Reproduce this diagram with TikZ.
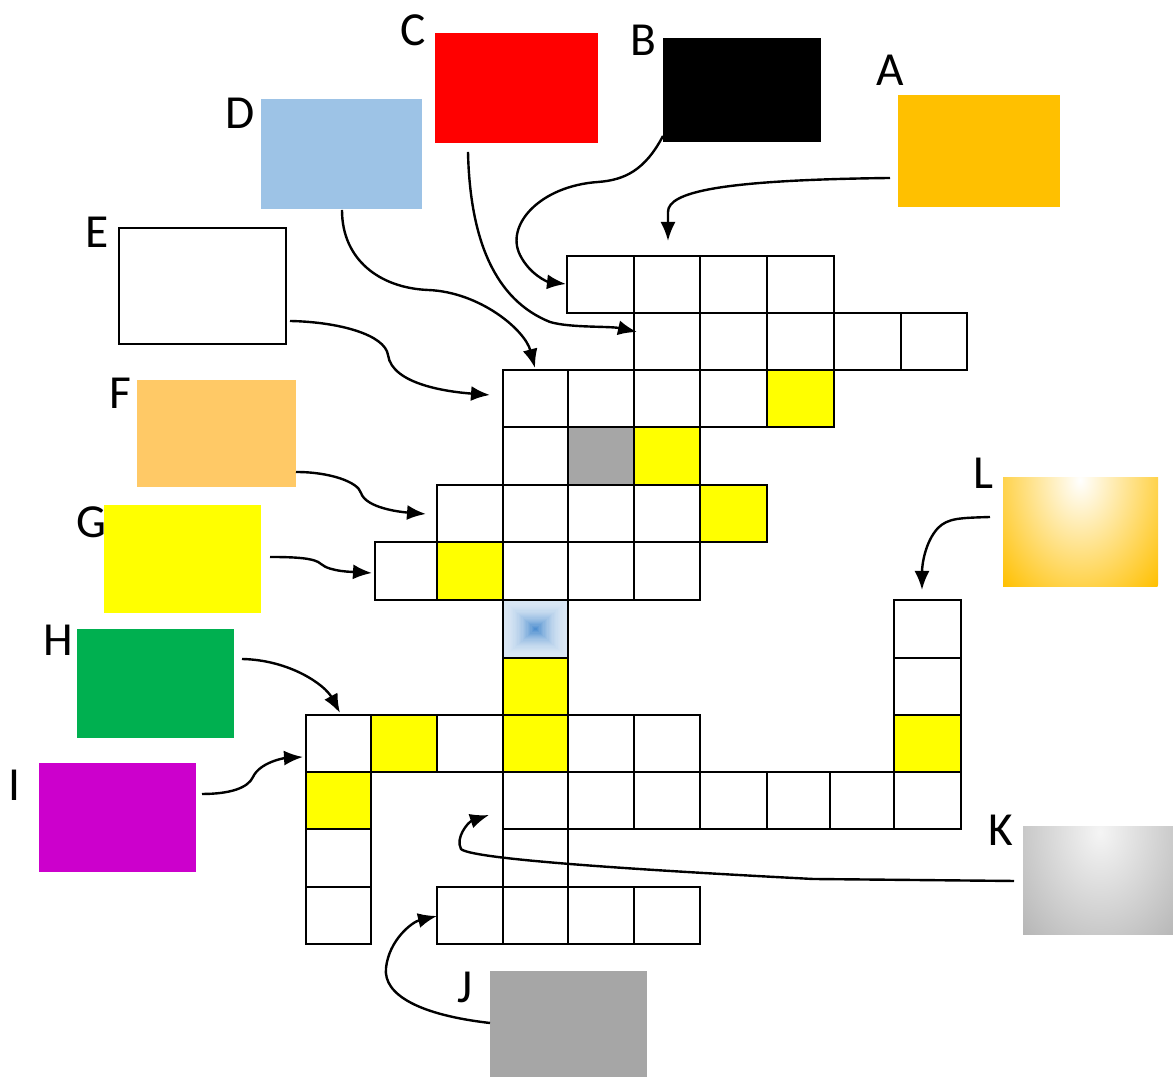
\documentclass[tikz,border=0pt]{standalone}
\usepackage{fontspec}
\setmainfont{Carlito}
\usetikzlibrary{arrows.meta}
\tikzset{>={Latex[length=1.9mm,width=1.5mm]}}
\definecolor{swatchA}{HTML}{FFC000}
\definecolor{swatchC}{HTML}{FF0000}
\definecolor{swatchD}{HTML}{9DC3E6}
\definecolor{swatchF}{HTML}{FFC966}
\definecolor{swatchG}{HTML}{FFFF00}
\definecolor{swatchH}{HTML}{00B050}
\definecolor{swatchI}{HTML}{CC00CC}
\definecolor{swatchJ}{HTML}{A6A6A6}
\definecolor{cellyellow}{HTML}{FFFF00}
\definecolor{cellgray}{HTML}{A6A6A6}
\definecolor{cellpale}{HTML}{DAE7F4}
\definecolor{cellblue}{HTML}{4F8FD0}
\tikzstyle{pointer} = [->, line width=0.24mm, black]
\tikzstyle{cellbox} = [draw=black, line width=0.28mm]
\tikzstyle{letter} = [font=\fontsize{13.5}{16}\selectfont, inner sep=0pt]
\newcommand{\swatch}[3]{
\fill[#3] #1 rectangle #2;
}
\newcommand{\gridrow}[3]{
\foreach \xa/\xb/\col in {#3} {\draw[cellbox, fill=\col] (\xa,#1) rectangle (\xb,#2);}
}

\begin{document}
\begin{tikzpicture}[x=0.1mm, y=-0.1mm]
		\useasboundingbox (0,0) rectangle (1173,1077);

		% Coordinates
		\coordinate (A1) at (890,178);
		\coordinate (A2) at (668,241);
		\coordinate (B1) at (663,136);
		\coordinate (B2) at (566,284);
		\coordinate (C1) at (468,152);
		\coordinate (C2) at (637,332);
		\coordinate (D1) at (342,210);
		\coordinate (D2) at (535,368);
		\coordinate (E1) at (290,321);
		\coordinate (E2) at (490,395);
		\coordinate (F1) at (296,472);
		\coordinate (F2) at (426,514);
		\coordinate (G1) at (270,557);
		\coordinate (G2) at (372,573);
		\coordinate (H1) at (242,659);
		\coordinate (H2) at (340,713);
		\coordinate (I1) at (202,794);
		\coordinate (I2) at (303,757);
		\coordinate (J1) at (490,1023);
		\coordinate (J2) at (437,916);
		\coordinate (K1) at (1014,881);
		\coordinate (K2) at (489,815);
		\coordinate (L1) at (990,517);
		\coordinate (L2) at (922,590);

		% Swatches
		\swatch{(898,95)}{(1060,207)}{swatchA}
		\swatch{(663,38)}{(821,142)}{black}
		\swatch{(435,33)}{(598,143)}{swatchC}
		\swatch{(261,99)}{(422,209)}{swatchD}
		\draw[line width=0.28mm] (119,228) rectangle (286,344);
		\swatch{(137,380)}{(296,487)}{swatchF}
		\swatch{(104,505)}{(261,613)}{swatchG}
		\swatch{(77,629)}{(234,738)}{swatchH}
		\swatch{(39,763)}{(196,872)}{swatchI}
		\swatch{(490,971)}{(647,1080)}{swatchJ}
		%% Shaded
		\begin{scope}
			\clip (1003,478) rectangle (1158,587);
			\shade[inner color=white, outer color=swatchA] (1080,480) ellipse (11mm and 15mm);
		\end{scope}
		\begin{scope}
			\clip (1023,827) rectangle (1180,935);
			\shade[inner color=black!4, outer color=black!36] (1100,832) ellipse (14mm and 19mm);
		\end{scope}

		% Letters
		\foreach \n/\x/\y in {A/890/70, B/643/40, C/413/30, D/240/113, E/97/232, F/120/393,
			G/91/522, H/58/640, I/14/785, J/465/987, K/1001/830, L/983/473}
			\node[letter] (lab\n) at (\x,\y) {\n};

		% Blue cell
		\foreach \i in {0,...,24}{
			\pgfmathsetmacro\s{1-\i/25}
			\pgfmathsetmacro\p{100*(\i/24)^2}
			\fill[cellblue!\p!cellpale] ({535.5-32.5*\s},{629-29*\s}) rectangle ({535.5+32.5*\s},{629+29*\s});
		}

		% Grid
		\gridrow{256}{313}{567/634/white, 634/700/white, 700/767/white, 767/834/white}
		\gridrow{313}{370}{634/700/white, 700/767/white, 767/834/white, 834/901/white, 901/967/white}
		\gridrow{370}{427}{503/568/white, 568/634/white, 634/700/white, 700/767/white, 767/834/cellyellow}
		\gridrow{427}{485}{503/568/white, 568/634/cellgray, 634/700/cellyellow}
		\gridrow{485}{542}{437/503/white, 503/568/white, 568/634/white, 634/700/white, 700/767/cellyellow}
		\gridrow{542}{600}{375/437/white, 437/503/cellyellow, 503/568/white, 568/634/white, 634/700/white}
		\gridrow{600}{658}{503/568/none, 894/961/white}
		\gridrow{658}{715}{503/568/cellyellow, 894/961/white}
		\gridrow{715}{772}{306/371/white, 371/437/cellyellow, 437/503/white, 503/568/cellyellow,
			568/634/white, 634/700/white, 894/961/cellyellow}
		\gridrow{772}{829}{306/371/cellyellow, 503/568/white, 568/634/white, 634/700/white,
			700/767/white, 767/830/white, 830/894/white, 894/961/white}
		\gridrow{829}{887}{306/371/white, 503/568/white}
		\gridrow{887}{944}{306/371/white, 437/503/white, 503/568/white, 568/634/white, 634/700/white}

		% Pointers
		\draw[pointer] (A1) .. controls (720,180) and (668,192) .. (668,212) -- (A2);
		\draw[pointer] (B1) .. controls (645,170) and (625,180) .. (598,182)
			.. controls (540,186) and (505,225) .. (520,255) .. controls (530,275) and (548,282) .. (B2);
		\draw[pointer] (C1) .. controls (470,240) and (495,300) .. (550,322)
			.. controls (570,328) and (610,326) .. (C2);
		\draw[pointer] (D1) .. controls (342,260) and (380,288) .. (428,290)
			.. controls (480,292) and (525,330) .. (D2);
		\draw[pointer] (E1) .. controls (340,322) and (385,335) .. (388,355)
			.. controls (392,385) and (450,392) .. (E2);
		\draw[pointer] (F1) .. controls (330,472) and (358,482) .. (361,493)
			.. controls (366,508) and (400,512) .. (F2);
		\draw[pointer] (G1) .. controls (295,557) and (315,558) .. (321,564)
			.. controls (330,572) and (355,572) .. (G2);
		\draw[pointer] (H1) .. controls (290,660) and (325,685) .. (H2);
		\draw[pointer] (I1) .. controls (230,794) and (248,788) .. (253,777)
			.. controls (260,762) and (285,758) .. (I2);
		\draw[pointer] (J1) .. controls (420,1015) and (383,995) .. (386,968)
			.. controls (389,940) and (412,922) .. (J2);
		\draw[pointer] (K1) -- (813,879) .. controls (600,868) and (470,858) .. (461,849)
			.. controls (455,838) and (468,822) .. (K2);
		\draw[pointer] (L1) .. controls (960,518) and (948,518) .. (938,528)
			.. controls (925,542) and (922,565) .. (L2);
	\end{tikzpicture}
\end{document}
